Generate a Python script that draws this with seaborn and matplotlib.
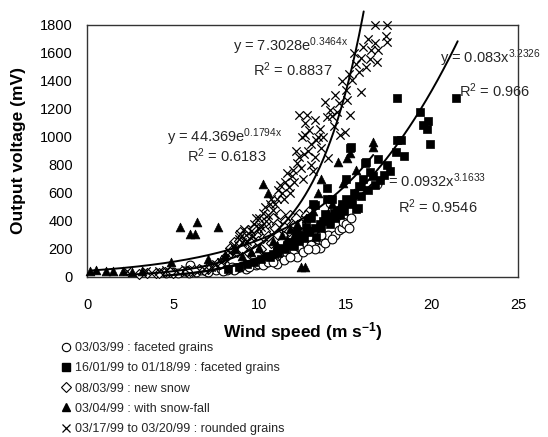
import matplotlib
matplotlib.use("Agg")
import numpy as np
import pandas as pd
import seaborn as sns
import matplotlib.pyplot as plt
from matplotlib.lines import Line2D

# ---------------- data ----------------
circ_x = [4.6, 5.0, 5.3, 5.6, 5.9, 6.0, 6.3, 6.6, 6.9, 7.2, 7.5, 7.8, 8.1, 8.4, 8.7, 9.0, 9.2, 9.5,
          9.8, 10.0, 10.3, 10.6, 10.9, 11.0, 11.3, 11.6, 12.0, 12.2, 12.3, 12.7, 12.9, 13.0, 13.4,
          13.5, 13.7, 14.0, 14.1, 14.4, 14.6, 14.8, 14.85, 15.0, 15.3,
          8.9, 9.4, 9.9, 10.2, 10.5, 10.8, 11.4, 11.8, 12.5, 13.2, 13.8, 14.2, 15.2, 12.8, 13.6,
          7.0, 7.9, 8.5]
circ_y = [30, 35, 28, 40, 32, 86, 38, 50, 42, 55, 48, 60, 52, 70, 62, 80, 60, 95,
          85, 110, 100, 125, 140, 95, 150, 170, 190, 140, 215, 240, 290, 230, 270,
          210, 259, 300, 528, 300, 336, 348, 395, 380, 420,
          70, 75, 90, 85, 105, 110, 120, 140, 180, 200, 240, 270, 350, 200, 300,
          38, 45, 50]

sq_x = [8.2, 8.8, 9.3, 9.7, 10.1, 10.4, 10.8, 11.0, 11.3, 11.6, 11.9, 12.1, 12.4, 12.7, 12.8,
        13.1, 13.2, 13.3, 13.5, 13.7, 13.9, 13.9, 14.0, 14.3, 14.5, 14.8, 15.0, 15.25, 15.3, 15.5,
        15.6, 15.7, 15.8, 16.0, 16.1, 16.2, 16.4, 16.6, 16.9, 17.2, 17.4, 17.9, 18.0, 18.2, 18.4,
        17.96, 19.3, 19.5, 19.7, 19.8, 19.9, 21.4,
        10.6, 11.1, 11.5, 12.0, 12.3, 12.6, 12.9, 13.2, 13.6, 13.8, 14.1, 14.4, 14.7, 14.9, 15.2,
        15.4, 15.9, 16.3, 16.7, 17.0, 17.6, 12.2, 13.0, 14.2, 15.0]
sq_y = [60, 75, 90, 110, 130, 150, 165, 190, 210, 230, 250, 280, 300, 359, 320,
        521, 514, 288, 380, 400, 633, 560, 430, 460, 480, 520, 560, 919, 931, 600,
        486, 490, 650, 700, 812, 819, 750, 720, 843, 729, 800, 895, 978, 979, 864,
        1276, 1176, 1086, 1057, 1114, 950, 1276,
        140, 170, 200, 220, 260, 280, 330, 350, 350, 450, 380, 420, 440, 470, 520,
        540, 580, 620, 660, 690, 760, 330, 420, 560, 700]

dia_x = [3.0, 3.5, 4.0, 4.5, 5.0, 5.5, 6.0, 6.5, 7.0, 7.3, 7.6, 7.9, 8.2, 8.3, 8.5, 8.7, 8.9,
         9.1, 9.36, 9.4, 9.6, 9.8, 10.0, 10.1, 10.2, 10.4, 10.6, 10.7, 10.8, 11.0, 11.2, 11.5,
         11.8, 12.0, 12.3, 12.6, 12.9,
         8.0, 8.4, 8.8, 9.0, 9.2, 9.5, 9.7, 9.9, 10.3, 10.5, 10.9, 11.1, 11.4, 11.7, 12.1, 12.4,
         12.7, 7.7, 7.0, 6.8, 6.2, 5.8, 4.8, 4.2]
dia_y = [25, 30, 28, 35, 32, 40, 45, 55, 60, 80, 100, 120, 160, 207, 252, 180, 324,
         220, 336, 170, 260, 300, 350, 200, 280, 400, 330, 240, 420, 380, 450, 400,
         440, 380, 450, 420, 470,
         140, 190, 260, 200, 290, 240, 350, 260, 330, 290, 350, 300, 360, 330, 420, 380,
         440, 90, 75, 50, 50, 45, 35, 30]

tri_x = [0.2, 0.5, 1.1, 1.5, 2.1, 2.6, 3.2, 4.9, 5.4, 6.0, 6.25, 6.4, 7.6, 9.0, 9.5, 10.0, 10.2,
         10.5, 10.8, 11.3, 11.8, 12.2, 12.4, 12.65, 12.7, 13.1, 13.4, 13.6, 14.2, 14.56, 14.85,
         15.1, 15.25, 15.6, 16.6, 16.6,
         7.0, 8.0, 8.6, 11.0, 11.6, 12.0, 12.9, 13.8, 14.0, 14.6, 15.5, 16.0]
tri_y = [45, 50, 45, 40, 40, 38, 42, 109, 360, 310, 310, 390, 355, 150, 180, 210, 664,
         600, 260, 300, 340, 380, 70, 72, 420, 470, 602, 700, 520, 824, 674,
         850, 885, 764, 931, 967,
         130, 160, 200, 230, 270, 300, 350, 420, 460, 500, 600, 650]

x_x = [2.3, 3.4, 4.2, 4.6, 5.7, 6.8, 7.5, 8.0, 8.3, 8.5, 8.8, 9.0, 9.2, 9.5, 9.7, 9.9, 10.0,
       10.2, 10.4, 10.6, 10.8, 11.0, 11.1, 11.3, 11.5, 11.7, 11.9, 11.96, 12.2, 12.3, 12.3,
       12.45, 12.5, 12.65, 12.65, 12.75, 12.8, 13.0, 13.0, 13.2, 13.2, 13.4, 13.6, 13.9, 14.0,
       14.1, 14.3, 14.6, 14.7, 14.96, 15.0, 15.1, 15.25, 15.4, 15.5, 15.8, 15.9, 15.9, 16.2,
       16.4, 16.7, 16.7, 16.8, 16.9, 17.35, 17.4, 17.4,
       9.3, 9.6, 9.8, 10.1, 10.3, 10.5, 10.7, 10.9, 11.2, 11.4, 11.6, 11.8, 12.0, 12.1, 12.4,
       12.6, 12.9, 13.1, 13.3, 13.5, 13.7, 13.8, 14.2, 14.4, 14.5, 14.8, 15.2, 15.6, 16.0,
       16.3, 16.5, 8.6, 8.9, 9.1, 7.8, 7.2]
x_y = [40, 45, 40, 50, 55, 60, 90, 130, 180, 230, 270, 250, 300, 330, 380, 350, 420,
       460, 400, 520, 480, 560, 620, 600, 680, 640, 720, 764, 814, 860, 1157,
       1002, 700, 1014, 1098, 1157, 900, 950, 800, 1121, 860, 1000, 920, 1145, 850,
       1193, 1080, 1243, 1014, 1038, 1336, 1264, 1157, 1407, 1600, 1467, 1324, 1562, 1502,
       1560, 1674, 1800, 1538, 1621, 1721, 1681, 1800,
       260, 290, 420, 360, 500, 440, 560, 520, 660, 560, 740, 600, 680, 900, 780,
       880, 1050, 760, 980, 1060, 1000, 1250, 1150, 1300, 1180, 1400, 1450, 1520, 1640,
       1700, 1620, 200, 310, 340, 110, 70]

legend_labels = ["03/03/99 : faceted grains",
                 "16/01/99 to 01/18/99 : faceted grains",
                 "08/03/99 : new snow",
                 "03/04/99 : with snow-fall",
                 "03/17/99 to 03/20/99 : rounded grains"]

# trend lines: (a, b, x start, x end)
exp1 = (7.3028, 0.3464, 2.3, 16.05)
exp2 = (44.369, 0.1794, 0.2, 16.6)
pow3 = (0.083, 3.2326, 5.0, 21.5)
pow4 = (0.0932, 3.1633, 4.5, 16.5)

x_ticks = [0, 5, 10, 15, 20, 25]
y_ticks = [0, 200, 400, 600, 800, 1000, 1200, 1400, 1600, 1800]

# ---------------- style ----------------
sns.set_theme(style="white")
plt.rcParams["font.family"] = ["Liberation Sans", "DejaVu Sans"]
plt.rcParams["mathtext.default"] = "regular"

W, H = 548, 437
fig = plt.figure(figsize=(W / 100, H / 100), dpi=100)
L, R, T, B = 87, 518, 25, 277
ax = fig.add_axes([L / W, 1 - B / H, (R - L) / W, (B - T) / H])

# ---------------- points ----------------
sns.scatterplot(x=circ_x, y=circ_y, marker="o", s=40, color="black", facecolor="white",
                edgecolor="black", linewidth=0.8, ax=ax, clip_on=False, zorder=3)
sns.scatterplot(x=dia_x, y=dia_y, marker="D", s=26, color="black", facecolor="white",
                edgecolor="black", linewidth=0.8, ax=ax, clip_on=False, zorder=3)
sns.scatterplot(x=x_x, y=x_y, marker="x", s=36, color="black", edgecolor="black",
                linewidth=0.9, ax=ax, clip_on=False, zorder=3)
sns.scatterplot(x=sq_x, y=sq_y, marker="s", s=36, color="black", edgecolor="black",
                linewidth=0.5, ax=ax, clip_on=False, zorder=3)
sns.scatterplot(x=tri_x, y=tri_y, marker="^", s=40, color="black", edgecolor="black",
                linewidth=0.5, ax=ax, clip_on=False, zorder=3)

# ---------------- trend lines ----------------
def curve_exp(p):
    a, b, x0, x1 = p
    xs = np.linspace(x0, x1, 200)
    return xs, a * np.exp(b * xs)

def curve_pow(p):
    a, b, x0, x1 = p
    xs = np.linspace(x0, x1, 200)
    return xs, a * xs ** b

for xs, ys in [curve_exp(exp1), curve_exp(exp2), curve_pow(pow3), curve_pow(pow4)]:
    sns.lineplot(x=xs, y=ys, color="black", linewidth=1.4, ax=ax, estimator=None,
                 sort=False, clip_on=False, zorder=4)

# ---------------- annotations ----------------
fs = 10.5
ax.text(8.47, 1616, r"y = 7.3028e$^{\mathregular{0.3464x}}$", fontsize=fs, va="baseline", zorder=5)
ax.text(9.65, 1436, r"R$^{\mathregular{2}}$ = 0.8837", fontsize=fs, va="baseline", zorder=5)
ax.text(4.62, 966, r"y = 44.369e$^{\mathregular{0.1794x}}$", fontsize=fs, va="baseline", zorder=5)
ax.text(5.82, 824, r"R$^{\mathregular{2}}$ = 0.6183", fontsize=fs, va="baseline", zorder=5)
ax.text(20.5, 1526, r"y = 0.083x$^{\mathregular{3.2326}}$", fontsize=fs, va="baseline",
        zorder=2, clip_on=False)
ax.text(21.6, 1288, r"R$^{\mathregular{2}}$ = 0.966", fontsize=fs, va="baseline", zorder=5)
ax.text(16.8, 645, r"y = 0.0932x$^{\mathregular{3.1633}}$", fontsize=fs, va="baseline", zorder=2)
ax.text(18.06, 455, r"R$^{\mathregular{2}}$ = 0.9546", fontsize=fs, va="baseline", zorder=5)

# ---------------- axes ----------------
ax.set_xlim(0, 25)
ax.set_ylim(0, 1800)
ax.set_xticks(x_ticks)
ax.set_yticks(y_ticks)
ax.tick_params(axis="both", length=0, labelsize=10.5, colors="black")
ax.tick_params(axis="x", pad=15)
ax.tick_params(axis="y", pad=10)
for sp in ax.spines.values():
    sp.set_visible(True)
    sp.set_color("#333333")
    sp.set_linewidth(1.0)
ax.grid(False)
ax.set_xlabel(r"Wind speed (m s$^{\mathregular{-1}}$)", fontsize=12.5, fontweight="bold",
              labelpad=6, color="black")
ax.set_ylabel("Output voltage (mV)", fontsize=12.5, fontweight="bold", labelpad=10, color="black")
ax.set_facecolor("white")
fig.patch.set_facecolor("white")

# ---------------- legend ----------------
handles = [
    Line2D([], [], linestyle="none", marker="o", markersize=6, markerfacecolor="white",
           markeredgecolor="black", markeredgewidth=0.8),
    Line2D([], [], linestyle="none", marker="s", markersize=5.5, markerfacecolor="black",
           markeredgecolor="black"),
    Line2D([], [], linestyle="none", marker="D", markersize=5, markerfacecolor="white",
           markeredgecolor="black", markeredgewidth=0.8),
    Line2D([], [], linestyle="none", marker="^", markersize=6, markerfacecolor="black",
           markeredgecolor="black"),
    Line2D([], [], linestyle="none", marker="x", markersize=6, color="black",
           markeredgewidth=0.9),
]
fig.legend(handles, legend_labels, loc="upper left", bbox_to_anchor=(62 / W, 1 - 342 / H),
           frameon=False, fontsize=9, handlelength=0.7, handletextpad=0.35, labelspacing=0.66,
           borderpad=0, borderaxespad=0)

fig.savefig("out.png", dpi=100, facecolor="white")
